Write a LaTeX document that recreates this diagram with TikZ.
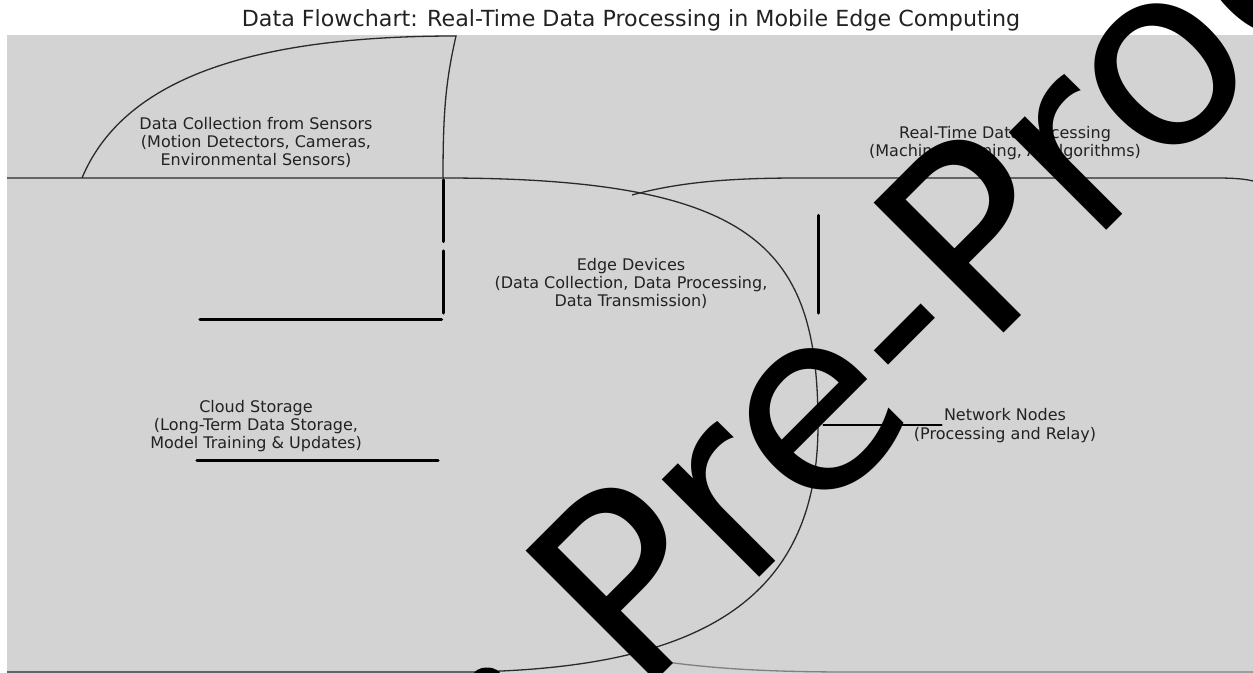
\documentclass[tikz,border=0pt]{standalone}
\usepackage{fontspec}
\setmainfont{DejaVu Sans}
\definecolor{bg}{HTML}{D3D3D3}
\definecolor{txt}{HTML}{222222}
\definecolor{edgec}{HTML}{2A2A2A}
\begin{document}
\begin{tikzpicture}[x=0.5pt,y=-0.5pt,
  outline/.style={draw=edgec, line width=0.65pt},
  bottomline/.style={draw=gray, line width=0.65pt},
  link/.style={draw=black, line width=1.55pt, line cap=round},
  thinlink/.style={draw=black, line width=1.15pt, line cap=round},
  lbl/.style={inner sep=0pt, align=center, text=txt, font=\fontsize{8}{9.1}\selectfont},
  ttl/.style={inner sep=0pt, text=txt, font=\fontsize{11.1}{13}\selectfont},
  wm/.style={inner sep=0pt, text=black, font=\fontsize{126}{126}\selectfont}]
\useasboundingbox (0,0) rectangle (1253,673);
\clip (0,0) rectangle (1253,673);
\fill[bg] (7,35) rectangle (1253,673);
% outlines of the overlapping rounded regions
\draw[outline] (82,178) .. controls (125,75) and (260,36) .. (456,36)
  .. controls (446,80) and (443,110) .. (443,178);
\draw[outline] (7,178) -- (443,178) .. controls (760,178) and (818,250) .. (818,425)
  .. controls (818,600) and (700,668) .. (470,672) -- (7,672);
\draw[outline] (632,195) .. controls (680,182) and (730,178) .. (800,178) -- (1215,178)
  .. controls (1235,178) and (1245,179) .. (1253,181);
\draw[bottomline] (640,658) .. controls (700,668) and (760,672) .. (850,672) -- (1253,672);
% title and labels
\node[ttl, anchor=base] (title) at (631,26.5) {Data Flowchart: Real-Time Data Processing in Mobile Edge Computing};
\node[lbl] (sensors) at (256,142.7) {Data Collection from Sensors\\(Motion Detectors, Cameras,\\Environmental Sensors)};
\node[lbl] (edge) at (631,283.2) {Edge Devices\\(Data Collection, Data Processing,\\Data Transmission)};
\node[lbl] (rt) at (1005,142.7) {Real-Time Data Processing\\(Machine Learning, AI Algorithms)};
\node[lbl] (net) at (1005,425.5) {Network Nodes\\(Processing and Relay)};
\node[lbl] (cloud) at (256,426.2) {Cloud Storage\\(Long-Term Data Storage,\\Model Training \& Updates)};
% connector segments
\coordinate (a1) at (443.3,180);
\coordinate (a2) at (443.3,241.5);
\coordinate (b1) at (443.3,251);
\coordinate (b2) at (443.3,313);
\coordinate (c1) at (200,319.3);
\coordinate (c2) at (441.5,319.3);
\coordinate (d1) at (818.3,215.5);
\coordinate (d2) at (818.3,313);
\coordinate (e1) at (197,460.7);
\coordinate (e2) at (438,460.7);
\coordinate (f1) at (823.5,425);
\coordinate (f2) at (941.5,425);
\draw[link] (a1) -- (a2);
\draw[link] (b1) -- (b2);
\draw[link] (c1) -- (c2);
\draw[link] (d1) -- (d2);
\draw[link] (e1) -- (e2);
\draw[thinlink] (f1) -- (f2);
% watermark
\node[wm, anchor=base west, rotate=45] (wmark) at (638.3,698.7) {Pre-Proof};
\fill[black] (487,676) ellipse [x radius=14, y radius=8.5];
\end{tikzpicture}
\end{document}
